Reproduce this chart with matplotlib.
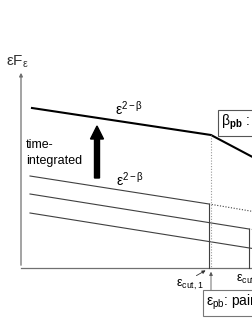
import matplotlib
matplotlib.use("Agg")
import matplotlib.pyplot as plt

plt.rcParams['font.family'] = ['Liberation Sans', 'DejaVu Sans']
plt.rcParams['mathtext.fontset'] = 'custom'
plt.rcParams['mathtext.rm'] = 'Liberation Sans'
plt.rcParams['mathtext.it'] = 'Liberation Sans'
plt.rcParams['mathtext.bf'] = 'Liberation Sans:bold'

# schematic coordinates in pixel space (x right, y down)
axis_x0, axis_y0 = 21, 268
axis_top, axis_right = 70, 260

# thick time-integrated spectrum with break
thick_x = [32, 211, 262]
thick_y = [108, 135, 162]

# thin instantaneous spectra (solid part, dotted part)
thin1_x, thin1_y = [30, 209], [176, 204]
thin1_dot_x, thin1_dot_y = [209, 262], [204, 213]
thin2_x, thin2_y = [30, 249], [194, 229]
thin2_dot_x, thin2_dot_y = [249, 262], [229, 231]
thin3_x, thin3_y = [30, 262], [213, 250]

# cutoff markers
cut_x = [209, 249]
cut_top = [204, 229]
break_x = 211

fig = plt.figure(figsize=(2.53, 3.27), dpi=100)
ax = fig.add_axes([0, 0, 1, 1])
ax.set_xlim(0, 253)
ax.set_ylim(327, 0)
ax.axis('off')

gray = '#707070'
line_c = '#404040'

# axes
ax.plot([axis_x0, axis_right], [axis_y0, axis_y0], color=gray, lw=0.9)
ax.annotate('', xy=(axis_x0, axis_top), xytext=(axis_x0, axis_y0),
            arrowprops=dict(arrowstyle='-|>', lw=0.9, color=gray, mutation_scale=5))
ax.text(6, 66, r'$\mathrm{εF_{ε}}$', fontsize=11, color='#333333', va='baseline')

# spectra
ax.plot(thick_x, thick_y, color='black', lw=1.5)
ax.plot(thin1_x, thin1_y, color=line_c, lw=0.8)
ax.plot(thin1_dot_x, thin1_dot_y, color=line_c, lw=0.8, ls=(0, (1, 1.5)))
ax.plot(thin2_x, thin2_y, color=line_c, lw=0.8)
ax.plot(thin2_dot_x, thin2_dot_y, color=line_c, lw=0.8, ls=(0, (1, 1.5)))
ax.plot(thin3_x, thin3_y, color=line_c, lw=0.8)

for cx, ct in zip(cut_x, cut_top):
    ax.plot([cx, cx], [ct, axis_y0], color=line_c, lw=0.8)
ax.plot([break_x, break_x], [135, axis_y0], color='#999999', lw=0.8, ls=(0, (1, 1.5)))

# labels on lines
ax.text(115, 115, r'$\mathrm{ε^{2-β}}$', fontsize=10, va='baseline')
ax.text(116, 186, r'$\mathrm{ε^{2-β}}$', fontsize=10, va='baseline')
ax.text(26, 148, 'time-', fontsize=9, va='baseline')
ax.text(26, 164, 'integrated', fontsize=9, va='baseline')

# big arrow
ax.arrow(97, 178, 0, -52, width=5, head_width=13, head_length=13,
         length_includes_head=True, color='black')

# cutoff labels
ax.text(176, 287, r'$\mathrm{ε_{cut,1}}$', fontsize=9, va='baseline')
ax.text(236, 282, r'$\mathrm{ε_{cut,2}}$', fontsize=9, va='baseline')
ax.annotate('', xy=(208, 269), xytext=(194, 277),
            arrowprops=dict(arrowstyle='-|>', lw=0.6, color='#333333', mutation_scale=5))
ax.annotate('', xy=(211, 269), xytext=(211, 293),
            arrowprops=dict(arrowstyle='-|>', lw=0.6, color='#555555', mutation_scale=5))

# boxes
ax.text(221, 126, r'$\mathrm{β_{\mathbf{pb}}}$ : pair-balance', fontsize=10, va='baseline',
        bbox=dict(boxstyle='square,pad=0.25', fc='white', ec='#555555', lw=0.8))
ax.text(206, 306, r'$\mathrm{ε_{pb}}$: pair-balance', fontsize=10, va='baseline',
        bbox=dict(boxstyle='square,pad=0.25', fc='white', ec='#777777', lw=0.8))

fig.savefig('out.png', dpi=100)
